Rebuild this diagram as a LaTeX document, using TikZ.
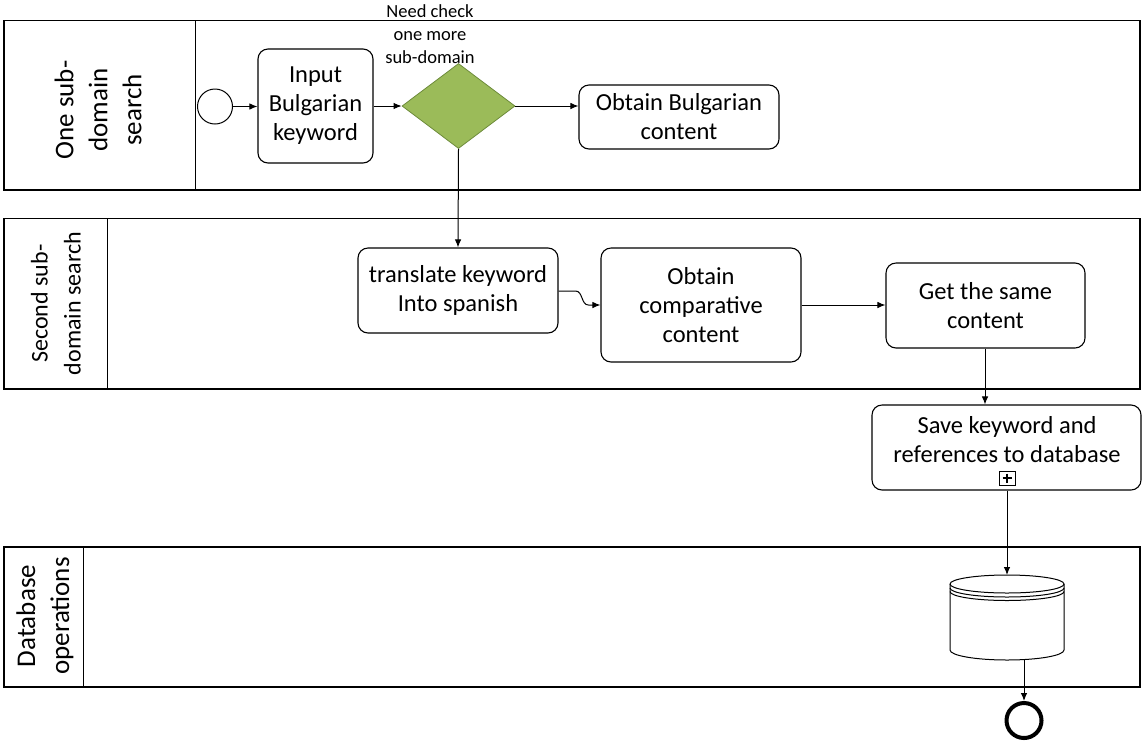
\documentclass[tikz,border=0pt]{standalone}
\usepackage{fontspec}
\setmainfont{Carlito}
\usetikzlibrary{shapes.geometric,arrows.meta}
\begin{document}
\begin{tikzpicture}[x=1pt,y=-1pt,
  lane/.style={draw,line width=1.8pt},
  divider/.style={line width=0.9pt},
  task/.style={draw,line width=1.1pt,rounded corners=10pt,align=center,font=\fontsize{24.5}{29}\selectfont,inner sep=0pt},
  flow/.style={line width=1pt,-{Latex[length=8pt,width=6.5pt]}},
  plain/.style={line width=1pt},
  lanelabel/.style={rotate=90,align=center,font=\fontsize{27}{34}\selectfont}]
\useasboundingbox (0,0) rectangle (1142,740);
% lanes
\draw[lane] (4,20.5) rectangle (1140,190);
\draw[divider] (195,20.5) -- (195,190);
\draw[lane] (4,218.5) rectangle (1140,389);
\draw[divider] (107,218.5) -- (107,389);
\draw[lane] (4,547) rectangle (1140,687);
\draw[divider] (83,547) -- (83,687);
\node[lanelabel] (l1) at (98,110) {One sub-\\domain\\search};
\node[lanelabel,font=\fontsize{24}{33}\selectfont] (l2) at (56,303.5) {Second sub-\\domain search};
\node[lanelabel] (l3) at (45,616) {Database\\operations};
% nodes
\node[draw,circle,minimum size=35pt,inner sep=0pt,line width=1pt] (start) at (215,106.5) {};
\node[task,minimum width=115pt,minimum height=114pt] (input) at (315.5,106) {Input\\Bulgarian\\keyword};
\node[draw,diamond,fill={rgb,255:red,155;green,187;blue,89},draw={rgb,255:red,110;green,140;blue,60},line width=0.8pt,minimum width=113pt,minimum height=85pt,inner sep=0pt,aspect=1.33] (gw) at (458.5,106) {};
\node[align=center,font=\fontsize{18.5}{23}\selectfont] (gwl) at (430,34) {Need check\\one more\\sub-domain};
\node[task,minimum width=200pt,minimum height=64pt] (obg) at (679,117) {Obtain Bulgarian\\content};
\node[task,minimum width=200pt,minimum height=85pt] (tr) at (458,290.5) {translate keyword\\Into spanish};
\node[task,minimum width=200pt,minimum height=114pt] (oc) at (701,305) {Obtain\\comparative\\content};
\node[task,minimum width=199pt,minimum height=85pt] (gs) at (985.5,305.5) {Get the same\\content};
\node[task,minimum width=269pt,minimum height=85pt] (sv) at (1006.5,447.5) {};
\node[align=center,font=\fontsize{24.5}{29}\selectfont,inner sep=0pt] (svt) at (1007,440) {Save keyword and\\references to database};
\node[draw,line width=1pt,minimum width=16pt,minimum height=14pt,inner sep=0pt] (plus) at (1007,478) {};
\draw[line width=1.6pt] (plus.center) ++(-4.5,0) -- ++(9,0) (plus.center) ++(0,-4.5) -- ++(0,9);
% database
\coordinate (dbtop) at (1007,575);
\coordinate (dbbot) at (1024,660);
\draw[line width=1pt,fill=white] (950,584) -- (950,650) arc[start angle=180,end angle=360,x radius=57pt,y radius=10pt] -- (1064,584) arc[start angle=0,end angle=180,x radius=57pt,y radius=9pt] -- cycle;
\draw[line width=1pt] (950,584) arc[start angle=180,end angle=360,x radius=57pt,y radius=9pt];
\draw[line width=1pt] (950,588) arc[start angle=180,end angle=360,x radius=57pt,y radius=9pt];
\draw[line width=1pt] (950,591.5) arc[start angle=180,end angle=360,x radius=57pt,y radius=9pt];
\node[draw,circle,minimum size=35pt,inner sep=0pt,line width=4pt] (end) at (1024,720.5) {};
% connectors
\draw[flow] (start.east) -- (start.east -| input.west);
\draw[flow] (input.east |- gw.west) -- (gw.west);
\draw[flow] (gw.east) -- (gw.east -| obg.west);
\draw[flow] (gw.south) -- (tr.north);
\draw[flow] (tr.east) ++(0,0.5) -- ++(17,0) to[out=0,in=180] ([xshift=-12pt]oc.west) -- (oc.west);
\draw[flow] (oc.east) -- (oc.east -| gs.west);
\draw[flow] (gs.south -| 985,0) -- (sv.north -| 985,0);
\draw[flow] (sv.south -| dbtop) -- (dbtop);
\draw[flow] (dbbot) -- (end.north);
\end{tikzpicture}
\end{document}
